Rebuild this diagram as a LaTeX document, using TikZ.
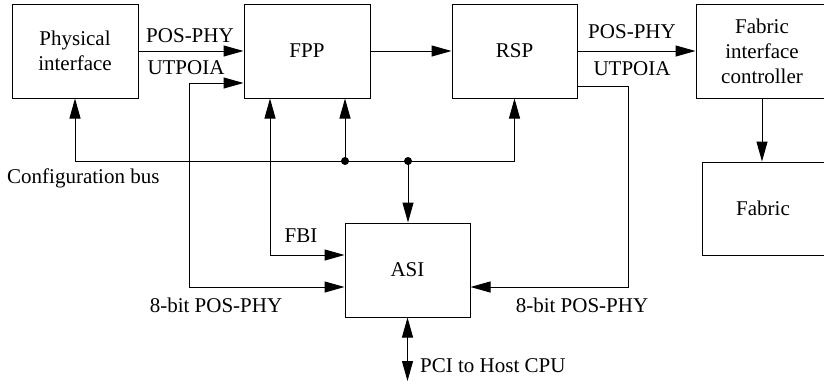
\documentclass[tikz,border=0pt]{standalone}
\usepackage{fontspec}
\setmainfont{Liberation Serif}
\usetikzlibrary{arrows.meta}

\tikzset{
  blk/.style={draw, line width=1pt, minimum width=126pt, minimum height=94pt, align=center, inner sep=0pt},
  lnk/.style={line width=1pt, -{Triangle[length=20pt,width=11pt]}},
  lnkboth/.style={line width=1pt, {Triangle[length=20pt,width=11pt]}-{Triangle[length=20pt,width=11pt]}},
  tap/.style={circle, fill, inner sep=0pt, minimum size=8pt},
  lbl/.style={inner sep=0pt}
}

\begin{document}
\begin{tikzpicture}[x=1pt,y=-1pt,font=\fontsize{21}{25}\selectfont]
  \useasboundingbox (0,0) rectangle (824,383);
  \clip (0,0) rectangle (824,383);

  % blocks
  \node[blk] (phy) at (75,51) {Physical\\interface};
  \node[blk] (fpp) at (307,51) {FPP};
  \node[blk, minimum width=125pt] (rsp) at (514.5,51) {RSP};
  \node[blk, minimum width=132pt] (fic) at (762,51) {Fabric\\interface\\controller};
  \node[blk, minimum width=122pt, minimum height=93pt] (fab) at (763,208.5) {Fabric};
  \node[blk, minimum width=125pt] (asi) at (407.5,270) {ASI};

  % main data path
  \draw[lnk] (phy) -- (fpp);
  \draw[lnk] (fpp) -- (rsp);
  \draw[lnk] (rsp) -- (fic);
  \draw[lnk] (fic.south) -- (fic.south |- fab.north);

  % configuration bus
  \node[tap] (d1) at (345,161) {};
  \node[tap] (d2) at (408,161) {};
  \draw[lnk] (d1.center) -| (phy.south);
  \draw[lnk] (d1.center) -| (rsp.south);
  \draw[lnk] (d1.center) -- (d1 |- fpp.south);
  \draw[lnk] (d2.center) -- (d2 |- asi.north);

  % FBI
  \coordinate (fbi) at (270,255);
  \draw[lnkboth] (fbi |- fpp.south) -- (fbi) -- (fbi -| asi.west);

  % 8-bit POS-PHY loops
  \coordinate (lpT) at (189,83);
  \coordinate (lpB) at (189,287);
  \draw[lnkboth] (lpT -| fpp.west) -- (lpT) -- (lpB) -- (lpB -| asi.west);
  \coordinate (rpT) at (628,86);
  \coordinate (rpB) at (628,287);
  \draw[lnk] (rpT -| rsp.east) -- (rpT) -- (rpB) -- (rpB -| asi.east);

  % host link
  \coordinate (pci) at (407.5,381);
  \draw[lnkboth] (asi.south) -- (pci);

  % labels
  \node[lbl, anchor=base] (tPos1) at (190,42) {POS-PHY};
  \node[lbl, anchor=base] (tUt1) at (186,74) {UTPOIA};
  \node[lbl, anchor=base] (tPos2) at (632,38) {POS-PHY};
  \node[lbl, anchor=base] (tUt2) at (632,75) {UTPOIA};
  \node[lbl, anchor=base west] (tBus) at (7,183) {Configuration bus};
  \node[lbl, anchor=base] (tFbi) at (301,242) {FBI};
  \node[lbl, anchor=base] (tBitL) at (216,312) {8-bit POS-PHY};
  \node[lbl, anchor=base] (tBitR) at (582,312) {8-bit POS-PHY};
  \node[lbl, anchor=base west] (tPci) at (420,372) {PCI to Host CPU};
\end{tikzpicture}
\end{document}
